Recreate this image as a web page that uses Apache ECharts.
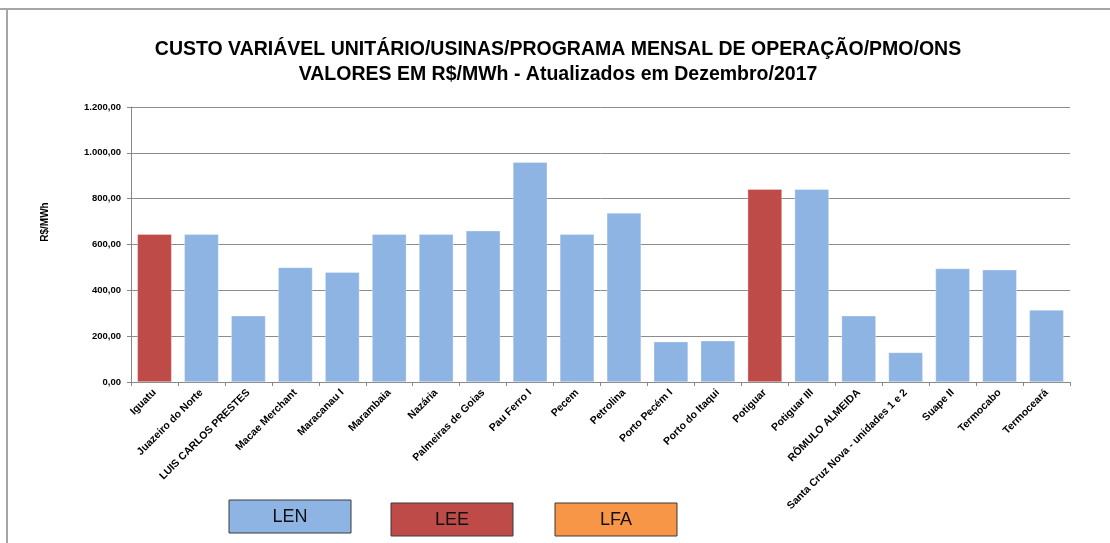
<!DOCTYPE html>
<html>
<head>
<meta charset="utf-8">
<script src="https://cdn.jsdelivr.net/npm/echarts@6/dist/echarts.min.js"></script>
<style>html,body{margin:0;padding:0;background:#fff}#c{width:1110px;height:543px}</style>
</head>
<body>
<div id="c"></div>
<script>
const categories = ['Iguatu','Juazeiro do Norte','LUIS CARLOS PRESTES','Macae Merchant','Maracanau I','Marambaia','Nazária','Palmeiras de Goias','Pau Ferro I','Pecem','Petrolina','Porto Pecém I','Porto do Itaqui','Potiguar','Potiguar III','RÔMULO ALMEIDA','Santa Cruz Nova - unidades 1 e 2','Suape II','Termocabo','Termoceará'];
const values = [645, 645, 289, 500, 479, 645, 645, 660, 959, 645, 738, 176, 180, 841, 841, 289, 129, 495, 490, 314];
const contractType = ['LEE','LEN','LEN','LEN','LEN','LEN','LEN','LEN','LEN','LEN','LEN','LEN','LEN','LEE','LEN','LEN','LEN','LEN','LEN','LEN'];
const legendItems = ['LEN','LEE','LFA'];
const colorMap = {LEN:'#8EB4E3', LEE:'#BE4B48', LFA:'#F79646'};
const yTicks = [0,200,400,600,800,1000,1200];
const yAxisTitle = 'R$/MWh';

const chart = echarts.init(document.getElementById('c'));
const fmt = v => {
  const s = v.toFixed(2).replace('.', ',');
  const [i, d] = s.split(',');
  return i.replace(/\B(?=(\d{3})+(?!\d))/g, '.') + ',' + d;
};
const FONT = '"Liberation Sans", Arial, sans-serif';
const legendX = [229, 391, 555];
const legendY = [500, 503, 503];
const graphics = [
  {type:'line', shape:{x1:0,y1:9,x2:1110,y2:9}, style:{stroke:'#a6a6a6', lineWidth:2}},
  {type:'line', shape:{x1:7,y1:9,x2:7,y2:543}, style:{stroke:'#a6a6a6', lineWidth:2}},
  {type:'text', x:45, y:222, rotation:Math.PI/2,
    style:{text:yAxisTitle, fill:'#000', font:'bold 10px ' + FONT, align:'center', verticalAlign:'middle'}}
];
legendItems.forEach((k, i) => {
  graphics.push({type:'rect', shape:{x:legendX[i], y:legendY[i], width:122, height:33},
    style:{fill:colorMap[k], stroke:'#3a3a3a', lineWidth:1}});
  graphics.push({type:'text', x:legendX[i]+61, y:legendY[i]+17,
    style:{text:k, fill:'#111', font:'18px ' + FONT, align:'center', verticalAlign:'middle'}});
});

chart.setOption({
  animation:false,
  backgroundColor:'#fff',
  title:{
    text:'CUSTO VARIÁVEL UNITÁRIO/USINAS/PROGRAMA MENSAL DE OPERAÇÃO/PMO/ONS\nVALORES EM R$/MWh - Atualizados em Dezembro/2017',
    left:553, top:32, textAlign:'center',
    textStyle:{fontFamily:FONT, fontSize:19.5, fontWeight:'bold', color:'#000', lineHeight:25}
  },
  grid:{left:131, right:40, top:107, bottom:161, containLabel:false},
  xAxis:{
    type:'category', data:categories,
    axisLine:{lineStyle:{color:'#888', width:1}},
    axisTick:{show:true, alignWithLabel:false, length:4, lineStyle:{color:'#888'}},
    axisLabel:{rotate:45, interval:0, margin:9, fontSize:10.5, color:'#000',
      fontFamily:FONT, fontWeight:'bold'}
  },
  yAxis:{
    type:'value', min:0, max:1200, interval:200,
    axisLine:{show:true, lineStyle:{color:'#888'}},
    axisTick:{show:true, length:4, lineStyle:{color:'#888'}},
    splitLine:{lineStyle:{color:'#8c8c8c', width:1}},
    axisLabel:{formatter:v => yTicks.includes(v) ? fmt(v) : '', fontSize:9.5, color:'#000', margin:10,
      fontFamily:FONT, fontWeight:'bold'}
  },
  series:[{
    type:'bar',
    data: values.map((v, i) => ({value:v, itemStyle:{color:colorMap[contractType[i]]}})),
    barCategoryGap:'27%',
    itemStyle:{borderColor:'rgba(255,255,255,0.6)', borderWidth:0.5}
  }],
  graphic:graphics
});
</script>
</body>
</html>
